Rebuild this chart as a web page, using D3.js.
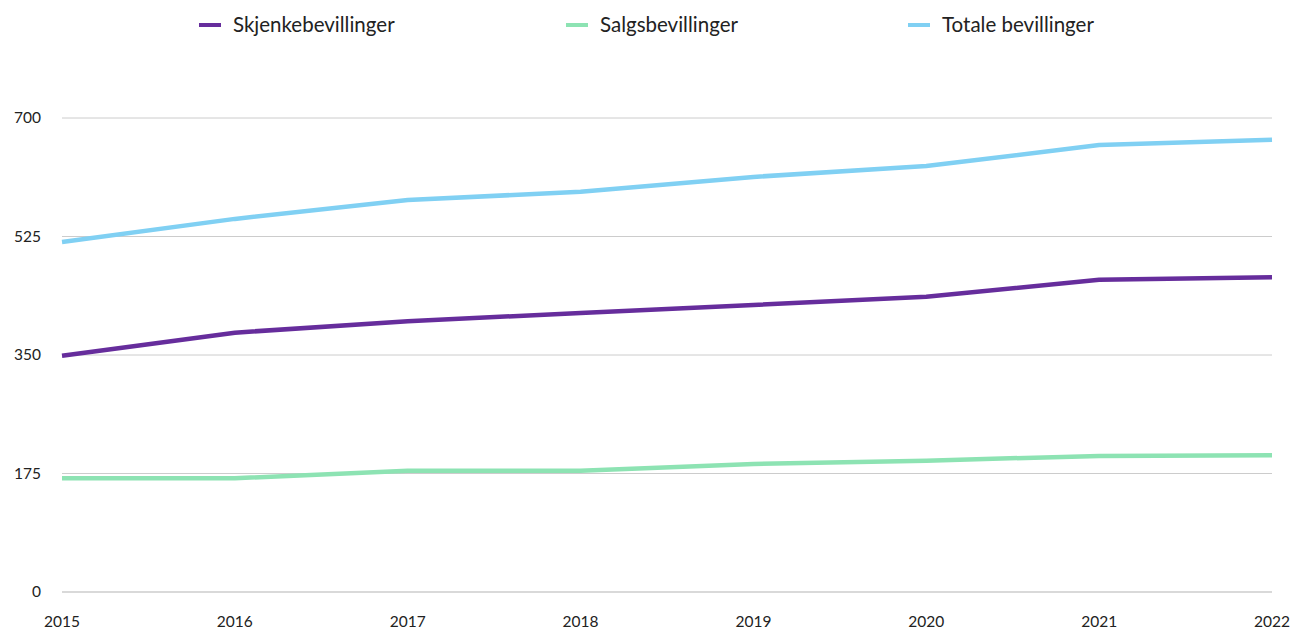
<!DOCTYPE html>
<html lang="no">
<head>
<meta charset="UTF-8">
<title>Bevillinger</title>
<script src="https://cdn.jsdelivr.net/npm/d3@7"></script>
<style>
    body { margin: 0; background: #fff; }
    svg { display: block; font-family: Lato, "Open Sans", sans-serif; }
    .grid line { stroke: #cccccc; stroke-width: 1; }
    .grid .zero { stroke: #d9d9d9; stroke-width: 2; }
    .tick-label { font-size: 15.5px; fill: #222; }
    .legend text { font-size: 20.5px; fill: #222; }
</style>
</head>
<body>
<svg width="1293" height="630"></svg>
<script>
    var years = [2015, 2016, 2017, 2018, 2019, 2020, 2021, 2022];
    var skjenke = [349, 383, 400, 412, 424, 436, 461, 465];
    var salgs = [168, 168, 179, 179, 189, 194, 201, 202];
    var totale = [517, 551, 579, 591, 613, 629, 660, 668];
    var yTicks = [0, 175, 350, 525, 700];
    var seriesNames = ["Skjenkebevillinger", "Salgsbevillinger", "Totale bevillinger"];
    var seriesColors = ["#662d9c", "#8de3b3", "#80d0f3"];

    var series = [skjenke, salgs, totale].map(function (vals, i) {
        return { name: seriesNames[i], color: seriesColors[i], values: vals };
    });

    var svg = d3.select("svg");
    var x = d3.scalePoint().domain(years).range([62, 1272]);
    var y = d3.scaleLinear().domain([0, 700]).range([592, 118]);

    var grid = svg.append("g").attr("class", "grid");
    grid.selectAll("line")
        .data(yTicks)
        .enter().append("line")
        .attr("class", function (d) { return d === 0 ? "zero" : null; })
        .attr("x1", 62).attr("x2", 1272)
        .attr("y1", function (d) { return y(d); })
        .attr("y2", function (d) { return y(d); });

    svg.append("g").selectAll("text")
        .data(yTicks)
        .enter().append("text")
        .attr("class", "tick-label")
        .attr("x", 41)
        .attr("y", function (d) { return y(d); })
        .attr("dy", "0.35em")
        .attr("text-anchor", "end")
        .text(function (d) { return d; });

    svg.append("g").selectAll("text")
        .data(years)
        .enter().append("text")
        .attr("class", "tick-label")
        .attr("x", function (d) { return x(d); })
        .attr("y", 627)
        .attr("text-anchor", "middle")
        .text(function (d) { return d; });

    var line = d3.line()
        .x(function (d, i) { return x(years[i]); })
        .y(function (d) { return y(d); });

    svg.append("g").selectAll("path")
        .data(series)
        .enter().append("path")
        .attr("fill", "none")
        .attr("stroke", function (d) { return d.color; })
        .attr("stroke-width", 4.5)
        .attr("stroke-linejoin", "round")
        .attr("d", function (d) { return line(d.values); });

    var legendX = [199, 566, 908];
    var legend = svg.append("g").attr("class", "legend")
        .selectAll("g")
        .data(series)
        .enter().append("g")
        .attr("transform", function (d, i) { return "translate(" + legendX[i] + ",25)"; });
    legend.append("line")
        .attr("x1", 0).attr("x2", 22)
        .attr("stroke", function (d) { return d.color; })
        .attr("stroke-width", 4);
    legend.append("text")
        .attr("x", 34)
        .attr("dy", "0.35em")
        .text(function (d) { return d.name; });
</script>
</body>
</html>
